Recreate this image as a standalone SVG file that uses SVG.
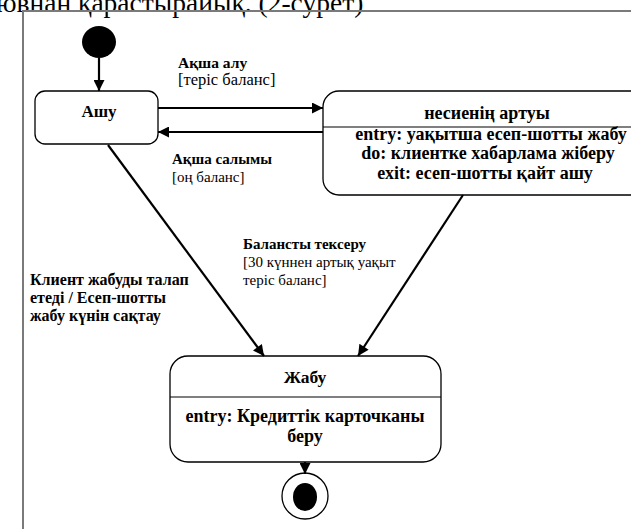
<svg xmlns="http://www.w3.org/2000/svg" width="631" height="529" viewBox="0 0 631 529">
  <style>
    .frame { fill: none; stroke: #7a7a7a; stroke-width: 2; }
    .state { fill: #ffffff; stroke: #000000; stroke-width: 1.3; }
    .div { stroke: #000000; stroke-width: 1.2; }
    .edge { fill: none; stroke: #000000; stroke-width: 2.2; }
    .t { font-family: "Liberation Serif", "Times New Roman", serif; fill: #000000; }
    .b { font-weight: bold; }
    .mid { text-anchor: middle; }
  </style>
  <defs>
    <marker id="arrow" viewBox="0 0 10 10" refX="10" refY="5" markerWidth="5.5" markerHeight="5" markerUnits="strokeWidth" orient="auto">
      <path d="M0,0 L10,5 L0,10 z" fill="#000000"/>
    </marker>
  </defs>

  <rect width="631" height="529" fill="#ffffff"/>

  <!-- tail of the preceding paragraph -->
  <text class="t" x="-4" y="12" font-size="27.5">ювнан қарастырайық. (2-сурет)</text>

  <!-- diagram frame -->
  <path class="frame" d="M23,529 V11 H631"/>

  <!-- initial pseudo-state -->
  <g id="initial">
    <ellipse cx="99" cy="42" rx="17" ry="16" fill="#000000"/>
  </g>

  <!-- state: Ашу -->
  <g id="ashu">
    <rect class="state" x="35" y="91" width="123" height="53" rx="10"/>
    <text class="t b mid" x="99" y="117" font-size="17">Ашу</text>
  </g>

  <!-- state: несиенің артуы -->
  <g id="nesie">
    <rect class="state" x="323" y="91" width="340" height="104" rx="16"/>
    <line class="div" x1="323" y1="127" x2="631" y2="127"/>
    <text class="t b mid" x="487" y="119" font-size="18">несиенің артуы</text>
    <text class="t b mid" x="491" y="140" font-size="18">entry: уақытша есеп-шотты жабу</text>
    <text class="t b mid" x="488" y="159" font-size="18">do: клиентке хабарлама жіберу</text>
    <text class="t b mid" x="485" y="179" font-size="18">exit: есеп-шотты қайт ашу</text>
  </g>

  <!-- state: Жабу -->
  <g id="zhabu">
    <rect class="state" x="170" y="356" width="271" height="106" rx="18"/>
    <line class="div" x1="170" y1="397" x2="441" y2="397"/>
    <text class="t b mid" x="305" y="383" font-size="17.5">Жабу</text>
    <text class="t b mid" x="305" y="422" font-size="18">entry: Кредиттік карточканы</text>
    <text class="t b mid" x="305" y="442" font-size="18">беру</text>
  </g>

  <!-- final state -->
  <g id="final">
    <circle cx="305" cy="496" r="23" fill="#ffffff" stroke="#000000" stroke-width="1.3"/>
    <ellipse cx="305" cy="497" rx="12" ry="14" fill="#000000"/>
  </g>

  <!-- transitions -->
  <g id="edges">
    <line class="edge" x1="99" y1="58" x2="99" y2="91" marker-end="url(#arrow)"/>
    <line class="edge" x1="158" y1="108" x2="323" y2="108" marker-end="url(#arrow)"/>
    <line class="edge" x1="323" y1="132" x2="158" y2="132" marker-end="url(#arrow)"/>
    <line class="edge" x1="108" y1="145" x2="264" y2="356" marker-end="url(#arrow)"/>
    <line class="edge" x1="463" y1="195" x2="358" y2="356" marker-end="url(#arrow)"/>
    <line class="edge" x1="305" y1="462" x2="305" y2="474" marker-end="url(#arrow)"/>
  </g>

  <!-- transition labels -->
  <g id="labels">
    <text class="t b" x="178" y="68" font-size="15.5">Ақша алу</text>
    <text class="t" x="178" y="85" font-size="16.5">[теріс баланс]</text>
    <text class="t b" x="172" y="164" font-size="15">Ақша салымы</text>
    <text class="t" x="172" y="182" font-size="15">[оң баланс]</text>
    <text class="t b" x="243" y="249" font-size="15">Балансты тексеру</text>
    <text class="t" x="243" y="267" font-size="15">[30 күннен артық уақыт</text>
    <text class="t" x="243" y="285" font-size="15">теріс баланс]</text>
    <text class="t b" x="30" y="285" font-size="16">Клиент жабуды талап</text>
    <text class="t b" x="30" y="303" font-size="16">етеді / Есеп-шотты</text>
    <text class="t b" x="30" y="321" font-size="16">жабу күнін сақтау</text>
  </g>
</svg>
